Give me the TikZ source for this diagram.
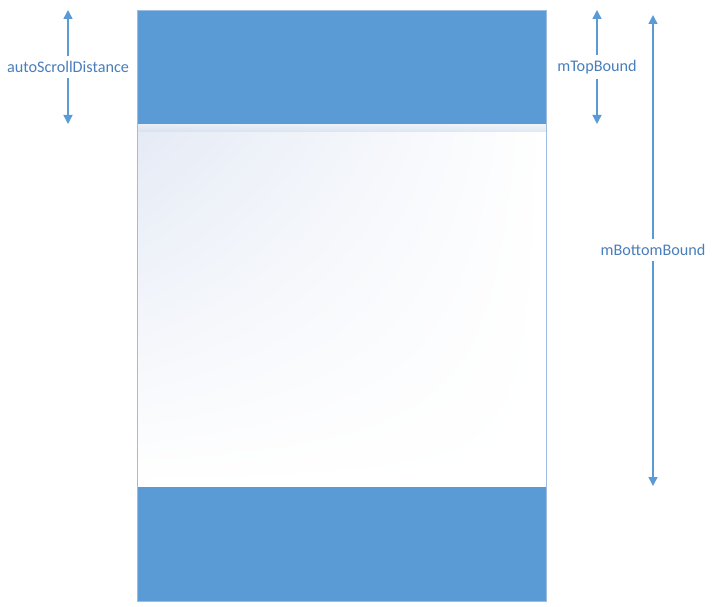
\documentclass[tikz,border=0pt]{standalone}
\usepackage{fontspec}
\setmainfont{Carlito}
\usetikzlibrary{arrows.meta,shadings}
\definecolor{bandblue}{HTML}{5B9BD5}
\definecolor{edgeblue}{HTML}{9DBCE0}
\definecolor{fadeblue}{HTML}{E4EAF5}
\definecolor{shadowblue}{HTML}{D3DEEE}
\definecolor{textblue}{HTML}{4A7EBB}
\definecolor{dimblue}{HTML}{5B9BD5}

\begin{document}
\begin{tikzpicture}
		[x=1pt,y=-1pt,every node/.style={inner sep=0pt,outer sep=0pt},
		band/.style={fill=bandblue,minimum width=409pt,minimum height=114pt,anchor=north west},
		lbl/.style={fill=white,text=textblue,font=\fontsize{16.2}{19}\selectfont,inner xsep=2pt,inner ysep=5pt},
		dim/.style={-{Triangle[length=9pt,width=9pt]},draw=dimblue,line width=1.4pt}]
		\useasboundingbox (0,0) rectangle (712,607);
		% panel
		\shade[upper left=fadeblue,upper right=white,lower left=white,lower right=white] (137,120) rectangle (546,487);
		% y axis is flipped, so the shadow colour is given as the bottom one
		\shade[top color=fadeblue!30,bottom color=shadowblue,opacity=0.7] (137,120) rectangle (546,132);
		\node[band] (topBand) at (137,10) {};
		\node[band] (botBand) at (137,487) {};
		\draw[edgeblue,line width=0.8pt] (topBand.north west) rectangle (botBand.south east);
		
		\coordinate (asdTop) at (68,10);
		\coordinate (asdBot) at (68,124);
		\coordinate (mtbTop) at (597,10);
		\coordinate (mtbBot) at (597,124);
		\coordinate (mbbTop) at (653,15);
		\coordinate (mbbBot) at (653,486);
		\node[lbl] (asd) at (68,67) {autoScrollDistance};
		\node[lbl] (mtb) at (597,67) {mTopBound};
		\node[lbl] (mbb) at (653,250) {mBottomBound};
		
		\foreach \lab/\a/\b in {asd/asdTop/asdBot,mtb/mtbTop/mtbBot,mbb/mbbTop/mbbBot}
		{\draw[dim] (\lab) -- (\a);
		\draw[dim] (\lab) -- (\b);}
		\end{tikzpicture}
\end{document}
